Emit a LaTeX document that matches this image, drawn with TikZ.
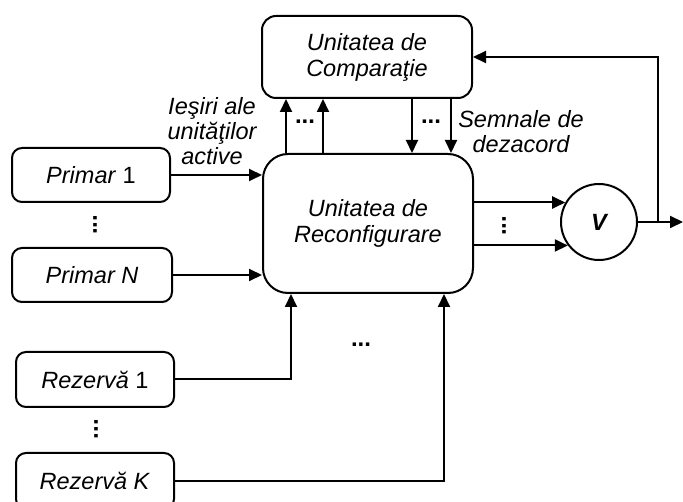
\documentclass[tikz,border=0pt]{standalone}
\usepackage{fontspec}
\setmainfont{Liberation Sans}
\usetikzlibrary{arrows.meta,calc}
\begin{document}
\begin{tikzpicture}[x=1pt,y=-1pt,
  every node/.style={font=\fontsize{23.5}{26}\selectfont},
  blk/.style={draw,line width=2pt,rounded corners=10pt,inner sep=0pt,align=center},
  arr/.style={line width=2pt,-{Triangle[length=13pt,width=12pt]}},
  hdots/.style={font=\fontsize{24}{25}\selectfont\bfseries},
  vdots/.style={font=\fontsize{24}{25}\selectfont\bfseries,rotate=90}]
\useasboundingbox (0,0) rectangle (683,502);
\clip (0,0) rectangle (683,502);
% boxes
\node[blk,rounded corners=14pt,minimum width=210pt,minimum height=82pt] (cp) at (367,57)
  {\itshape Unitatea de\\\itshape Comparaţie};
\node[blk,rounded corners=25pt,minimum width=210pt,minimum height=139pt] (rc) at (368,223.5)
  {\itshape Unitatea de\\\itshape Reconfigurare};
\node[blk,minimum width=158pt,minimum height=54pt] (p1) at (91,175) {\textit{Primar} 1};
\node[blk,minimum width=160pt,minimum height=54pt] (pn) at (92,275) {\textit{Primar N}};
\node[blk,minimum width=158pt,minimum height=55pt] (r1) at (95,379.5) {\textit{Rezervă} 1};
\node[blk,minimum width=158pt,minimum height=56pt] (rk) at (95,481) {\textit{Rezervă K}};
\node[draw,circle,line width=2pt,minimum size=76pt,inner sep=0pt] (v) at (599,222) {\bfseries\itshape V};
% labels
\node[align=center,font=\fontsize{23.5}{25}\selectfont\itshape] (lab1) at (212,131) {Ieşiri ale\\unităţilor\\active};
\node[align=center,font=\fontsize{23.5}{25}\selectfont\itshape] (lab2) at (521,132) {Semnale de\\dezacord};
% dots
\node[hdots] (d1) at (305,122) {...};
\node[hdots] (d2) at (431,122) {...};
\node[hdots] (d3) at (361,345) {...};
\node[vdots] (d4) at (95,225) {...};
\node[vdots] (d5) at (96,429) {...};
\node[vdots] (d6) at (504,226) {...};
% coordinates
\coordinate (out) at (683,222);
\coordinate (br) at (658,222);
% connectors
\draw[arr] (p1.east) -- (p1.east -| rc.west);
\draw[arr] (pn.east) -- (pn.east -| rc.west);
\draw[arr] ([xshift=24pt]rc.north west) -- ([xshift=24pt]rc.north west |- cp.south);
\draw[arr] ([xshift=61pt]rc.north west) -- ([xshift=61pt]rc.north west |- cp.south);
\draw[arr] ([xshift=-61pt]cp.south east) -- ([xshift=-61pt]cp.south east |- rc.north);
\draw[arr] ([xshift=-22pt]cp.south east) -- ([xshift=-22pt]cp.south east |- rc.north);
\draw[arr] (rc.east |- v.150) -- (v.150);
\draw[arr] (rc.east |- v.217) -- (v.217);
\draw[arr] (r1.east) -| ([xshift=29pt]rc.south west);
\draw[arr] (rk.east) -| ([xshift=-30pt]rc.south east);
\draw[arr] (v.east) -- (out);
\draw[arr] (br) |- (cp.east);
\end{tikzpicture}
\end{document}
